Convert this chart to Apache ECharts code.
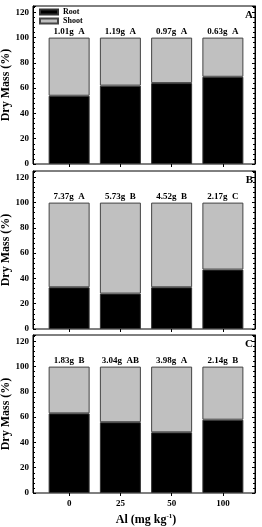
<!DOCTYPE html>
<html>
<head>
<meta charset="utf-8">
<script src="https://cdn.jsdelivr.net/npm/echarts@6/dist/echarts.min.js"></script>
<style>
  html, body { margin: 0; padding: 0; background: #fff; }
  #chart { width: 262px; height: 527px; }
</style>
</head>
<body>
<div id="chart"></div>
<script>
// Al levels on the x axis
const alLevels = ['0', '25', '50', '100'];

// root / shoot share of dry mass (%) per panel
const rootA = [54, 62, 64, 69];
const shootA = [46, 38, 36, 31];
const rootB = [33, 28, 33, 47];
const shootB = [67, 72, 67, 53];
const rootC = [63, 56, 48, 58];
const shootC = [37, 44, 52, 42];

// total dry mass + letters above bars
const labelsA = ['1.01g  A', '1.19g  A', '0.97g  A', '0.63g  A'];
const labelsB = ['7.37g  A', '5.73g  B', '4.52g  B', '2.17g  C'];
const labelsC = ['1.83g  B', '3.04g  AB', '3.98g  A', '2.14g  B'];

const panelLetters = ['A', 'B', 'C'];

const FONT = '"Liberation Serif", "DejaVu Serif", serif';
const GRAY = '#c0c0c0';
const Y_MAX = 125;

const panels = [
  { root: rootA, shoot: shootA, labels: labelsA, top: 6 },
  { root: rootB, shoot: shootB, labels: labelsB, top: 171 },
  { root: rootC, shoot: shootC, labels: labelsC, top: 335 }
];

const chart = echarts.init(document.getElementById('chart'));

const grid = [], xAxis = [], yAxis = [], series = [], title = [];
const txt = { fontFamily: FONT, fontWeight: 'bold', color: '#000' };

panels.forEach((p, i) => {
  const last = i === panels.length - 1;
  const g0 = i * 2, g1 = i * 2 + 1;

  // outer frame grid: box + y ticks/labels
  grid.push({
    left: 33, top: p.top, width: 222, height: 158, outerBoundsMode: 'none', containLabel: false,
    show: true, borderColor: '#000', borderWidth: 1, backgroundColor: 'transparent'
  });
  // inner grid: the four bars
  grid.push({ left: 43.5, top: p.top, width: 205, height: 158, outerBoundsMode: 'none', containLabel: false });

  xAxis.push({ type: 'value', gridIndex: g0, min: 0, max: 1, show: false });
  xAxis.push({
    type: 'category', gridIndex: g1, data: alLevels,
    axisLine: { show: false },
    axisTick: { show: true, alignWithLabel: true, length: 3, lineStyle: { color: '#000' } },
    axisLabel: { show: last, margin: 6, fontSize: 9, ...txt },
    name: last ? 'Al (mg kg{sup|-1})' : '',
    nameLocation: 'middle', nameGap: 20, nameMoveOverlap: false,
    nameTextStyle: {
      fontSize: 12, ...txt,
      rich: { sup: { fontSize: 7, ...txt, verticalAlign: 'top', padding: [0, 0, 6, 0] } }
    }
  });

  yAxis.push({
    type: 'value', gridIndex: g0, min: 0, max: Y_MAX, interval: 20,
    axisLine: { show: true, onZero: false, lineStyle: { color: '#000' } },
    splitLine: { show: false },
    axisTick: { show: true, inside: true, length: 3, lineStyle: { color: '#000' } },
    minorTick: { show: true, splitNumber: 5, length: 2, lineStyle: { color: '#000' } },
    axisLabel: { showMaxLabel: false, margin: 4, fontSize: 9, ...txt },
    name: 'Dry Mass (%)', nameLocation: 'middle', nameGap: 21, nameMoveOverlap: false,
    nameTextStyle: { fontSize: 12, ...txt }
  });
  yAxis.push({
    type: 'value', gridIndex: g0, min: 0, max: Y_MAX, interval: 20, position: 'right',
    axisLine: { show: true, onZero: false, lineStyle: { color: '#000' } },
    splitLine: { show: false },
    axisTick: { show: true, inside: true, length: 3, lineStyle: { color: '#000' } },
    minorTick: { show: true, splitNumber: 5, length: 2, lineStyle: { color: '#000' } },
    axisLabel: { show: false }
  });
  yAxis.push({ type: 'value', gridIndex: g1, min: 0, max: Y_MAX, show: false });

  const yIdx = i * 3 + 2;
  series.push({
    name: 'Root', type: 'bar', stack: 'mass' + i,
    xAxisIndex: g1, yAxisIndex: yIdx, barWidth: 41,
    itemStyle: { color: '#000', borderColor: '#333', borderWidth: 1 },
    data: p.root
  });
  series.push({
    name: 'Shoot', type: 'bar', stack: 'mass' + i,
    xAxisIndex: g1, yAxisIndex: yIdx, barWidth: 41,
    itemStyle: { color: GRAY, borderColor: '#444', borderWidth: 1 },
    label: {
      show: true, position: 'top', distance: 1,
      formatter: prm => p.labels[prm.dataIndex],
      fontSize: 9, ...txt
    },
    data: p.shoot
  });
  // panel letter in the top-right corner
  title.push({
    text: panelLetters[i], right: 9, top: p.top + 4, padding: 0,
    textStyle: { fontSize: 11, ...txt }
  });
});

chart.setOption({
  animation: false,
  backgroundColor: '#fff',
  title,
  legend: {
    data: ['Root', 'Shoot'], orient: 'vertical', left: 39, top: 8, padding: 0,
    itemWidth: 18, itemHeight: 5, itemGap: 1, icon: 'rect',
    textStyle: { fontSize: 8, ...txt, lineHeight: 8 }
  },
  grid, xAxis, yAxis, series
});
</script>
</body>
</html>
